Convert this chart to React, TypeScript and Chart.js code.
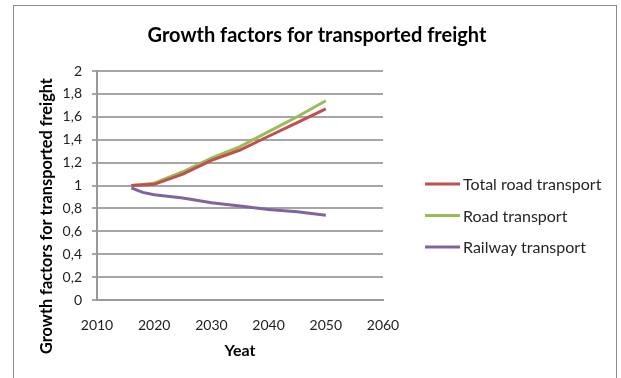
import React, { useEffect, useRef } from "react";
import { Chart, registerables } from "chart.js";

Chart.register(...registerables);

const seriesNames = ["Total road transport", "Road transport", "Railway transport"];
const seriesColors = ["#C0504D", "#9BBB59", "#8064A2"];

const totalRoadYears = [2016, 2020, 2025, 2030, 2035, 2040, 2045, 2050];
const totalRoadValues = [1.0, 1.01, 1.1, 1.22, 1.31, 1.43, 1.55, 1.67];

const roadYears = [2016, 2020, 2025, 2030, 2035, 2040, 2045, 2050];
const roadValues = [1.0, 1.02, 1.12, 1.24, 1.34, 1.47, 1.6, 1.74];

const railYears = [2016, 2018, 2020, 2025, 2030, 2035, 2040, 2045, 2050];
const railValues = [0.98, 0.94, 0.92, 0.89, 0.85, 0.82, 0.79, 0.77, 0.74];

const xMin = 2010;
const xMax = 2060;
const xStep = 10;
const yMin = 0;
const yMax = 2;
const yStep = 0.2;

const titleText = "Growth factors for transported freight";
const xTitle = "Yeat";
const yTitle = "Growth factors for transported freight";

const FONT = "Lato, 'Noto Sans', sans-serif";

function toPoints(xs: number[], ys: number[]) {
  return xs.map((x, i) => ({ x, y: ys[i] }));
}

const decorations = {
  id: "decorations",
  afterDraw(chart: any) {
    const ctx = chart.ctx;
    ctx.save();
    // main title, centred on the whole chart frame
    ctx.font = `bold 20px ${FONT}`;
    ctx.fillStyle = "#000";
    ctx.textAlign = "center";
    ctx.textBaseline = "middle";
    ctx.fillText(titleText, 317, 36);

    // vertical axis title
    ctx.save();
    ctx.translate(47, 216);
    ctx.rotate(-Math.PI / 2);
    ctx.font = `bold 16.3px ${FONT}`;
    ctx.fillText(yTitle, 0, 0);
    ctx.restore();

    // legend
    const x0 = 425;
    const lineLen = 35;
    const y0 = 184;
    const gap = 31.5;
    ctx.font = `16px ${FONT}`;
    ctx.textAlign = "left";
    chart.data.datasets.forEach((ds: any, i: number) => {
      const y = y0 + i * gap;
      ctx.strokeStyle = ds.borderColor;
      ctx.lineWidth = 3;
      ctx.lineCap = "butt";
      ctx.beginPath();
      ctx.moveTo(x0, y);
      ctx.lineTo(x0 + lineLen, y);
      ctx.stroke();
      ctx.fillStyle = "#262626";
      ctx.fillText(ds.label, x0 + lineLen + 3, y + 1);
    });
    ctx.restore();
  },
};

export default function App() {
  const ref = useRef<HTMLCanvasElement | null>(null);
  useEffect(() => {
    if (!ref.current) return;
    const chart = new Chart(ref.current, {
      type: "scatter",
      data: {
        datasets: [
          { label: seriesNames[0], data: toPoints(totalRoadYears, totalRoadValues) },
          { label: seriesNames[1], data: toPoints(roadYears, roadValues) },
          { label: seriesNames[2], data: toPoints(railYears, railValues) },
        ].map((d, i) => ({
          ...d,
          showLine: true,
          borderColor: seriesColors[i],
          backgroundColor: seriesColors[i],
          borderWidth: 3,
          pointRadius: 0,
          tension: 0,
        })),
      },
      plugins: [decorations],
      options: {
        animation: false,
        responsive: false,
        layout: { padding: { left: 13, right: 238, top: 71, bottom: 14 } },
        plugins: {
          title: { display: false },
          legend: { display: false },
          tooltip: { enabled: false },
        },
        scales: {
          x: {
            type: "linear",
            min: xMin,
            max: xMax,
            ticks: {
              stepSize: xStep,
              padding: 9,
              color: "#222",
              font: { family: FONT, size: 14 },
              callback: (v: any) => String(v),
            },
            grid: { display: false },
            border: { display: true, color: "#999", width: 2 },
            title: {
              display: true,
              text: xTitle,
              color: "#000",
              font: { family: FONT, size: 16, weight: "bold" },
              padding: { top: -2, bottom: 4 },
            },
          },
          y: {
            type: "linear",
            min: yMin,
            max: yMax,
            afterFit: (scale: any) => {
              scale.width = 84;
            },
            ticks: {
              stepSize: yStep,
              padding: 10,
              color: "#222",
              font: { family: FONT, size: 14 },
              callback: (v: any) => {
                const n = Math.round(Number(v) * 10) / 10;
                return String(n).replace(".", ",");
              },
            },
            grid: { color: "#a6a6a6", lineWidth: 2, tickLength: 5 },
            border: { display: true, color: "#999", width: 2 },
          },
        },
      },
    });
    return () => chart.destroy();
  }, []);
  return (
    <div style={{ position: "absolute", left: 0, top: 0, width: 621, height: 378, background: "#fff", overflow: "hidden" }}>
      <canvas ref={ref} width={621} height={378} style={{ position: "absolute", left: 0, top: 0 }} />
      <div
        style={{
          position: "absolute",
          left: 13,
          top: 5,
          width: 604,
          height: 380,
          border: "1px solid #8a8a8a",
          boxSizing: "border-box",
          pointerEvents: "none",
        }}
      />
    </div>
  );
}
